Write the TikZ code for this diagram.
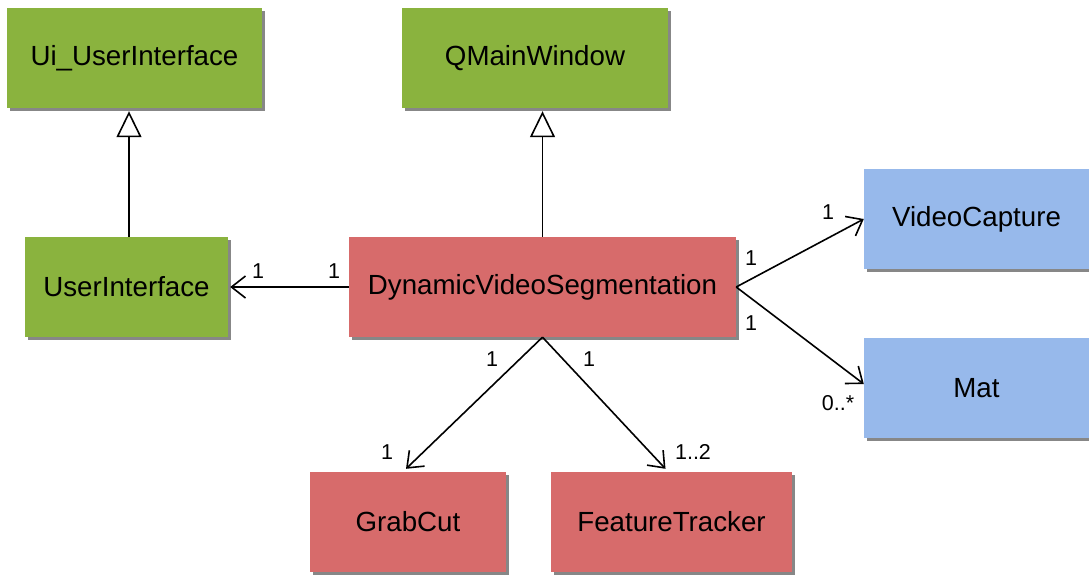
\documentclass[tikz,border=0pt]{standalone}
\usepackage{fontspec}
\setmainfont{Liberation Sans}
\usetikzlibrary{arrows.meta,shadows,calc}
\definecolor{uigreen}{RGB}{138,179,62}
\definecolor{corered}{RGB}{215,107,107}
\definecolor{cvblue}{RGB}{151,185,235}
\definecolor{shadowgray}{RGB}{135,135,135}
\tikzset{
  cls/.style={rectangle, minimum height=100pt, inner sep=0pt,
    font=\fontsize{27.7}{32}\selectfont,
    drop shadow={shadow xshift=3pt, shadow yshift=-3pt, fill=shadowgray, opacity=1}},
  greencls/.style={cls, fill=uigreen},
  redcls/.style={cls, fill=corered},
  bluecls/.style={cls, fill=cvblue},
  mult/.style={inner sep=0pt, font=\fontsize{21.5}{26}\selectfont},
  assoc/.style={line width=1.6pt, -{Straight Barb[length=14pt,width=22pt,line width=1.6pt]}},
  inherit/.style={line width=1.6pt, -{Triangle[open,length=26pt,width=25pt,line width=1.6pt,fill=white]}}
}
\begin{document}
\begin{tikzpicture}[x=1pt,y=-1pt]
\useasboundingbox (0,0) rectangle (1089,574);
% classes
\node[greencls, minimum width=255pt] (ui)   at (134.5,58)  {Ui\_UserInterface};
\node[greencls, minimum width=266pt] (qmw)  at (535,58)    {QMainWindow};
\node[greencls, minimum width=203pt] (uint) at (126.5,287) {UserInterface};
\node[redcls,   minimum width=387pt] (dvs)  at (542.5,287) {DynamicVideoSegmentation};
\node[bluecls,  minimum width=225pt] (vc)   at (976.5,219) {VideoCapture};
\node[bluecls,  minimum width=225pt] (mat)  at (976.5,388) {Mat};
\node[redcls,   minimum width=196pt] (gc)   at (408,522)   {GrabCut};
\node[redcls,   minimum width=241pt] (ft)   at (671.5,522) {FeatureTracker};
% generalisations
\draw[inherit] ([xshift=2.5pt]uint.north) -- ([xshift=2.5pt,yshift=-3pt]uint.north |- ui.south);
\draw[inherit] (dvs.north) -- ([yshift=-3pt]dvs.north |- qmw.south);
% associations
\draw[assoc] (dvs.west) -- ([xshift=2pt]uint.east);
\draw[assoc] (dvs.east) -- (vc.west);
\draw[assoc] (dvs.east) -- ([yshift=4pt]mat.west);
\draw[assoc] (dvs.south) -- ([xshift=-2pt,yshift=3pt]gc.north);
\draw[assoc] (dvs.south) -- ([xshift=-6pt,yshift=3pt]ft.north);
% multiplicities
\node[mult] (m1) at (334,271) {1};
\node[mult] (m2) at (258,271) {1};
\node[mult] (m3) at (751,258) {1};
\node[mult] (m4) at (828,212) {1};
\node[mult] (m5) at (751,323) {1};
\node[mult] (m6) at (838,403) {0..*};
\node[mult] (m7) at (492,359) {1};
\node[mult] (m8) at (589,359) {1};
\node[mult] (m9) at (387,452) {1};
\node[mult] (m10) at (693,452) {1..2};
\end{tikzpicture}
\end{document}
